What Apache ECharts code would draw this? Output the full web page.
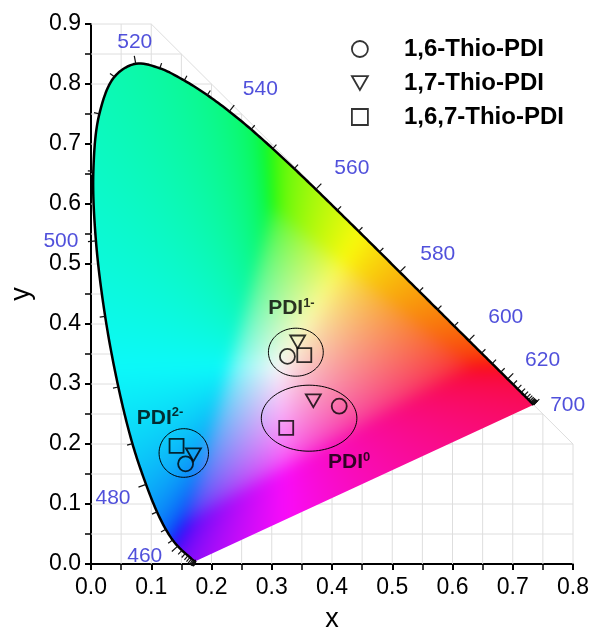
<!DOCTYPE html>
<html><head><meta charset="utf-8">
<script src="https://cdn.jsdelivr.net/npm/echarts@6/dist/echarts.min.js"></script>
<style>html,body{margin:0;padding:0;background:#fff}#c{width:592px;height:638px}</style>
</head><body><div id="c"></div>
<script>
// CIE 1931 2-degree spectral locus, 5 nm steps
const wavelengths = [380,385,390,395,400,405,410,415,420,425,430,435,440,445,450,455,460,465,470,475,480,485,490,495,500,505,510,515,520,525,530,535,540,545,550,555,560,565,570,575,580,585,590,595,600,605,610,615,620,625,630,635,640,645,650,655,660,665,670,675,680,685,690,695,700];
const locusX = [0.1741,0.1740,0.1738,0.1736,0.1733,0.1730,0.1726,0.1721,0.1714,0.1703,0.1689,0.1669,0.1644,0.1611,0.1566,0.1510,0.1440,0.1355,0.1241,0.1096,0.0913,0.0687,0.0454,0.0235,0.0082,0.0039,0.0139,0.0389,0.0743,0.1142,0.1547,0.1929,0.2296,0.2658,0.3016,0.3373,0.3731,0.4087,0.4441,0.4788,0.5125,0.5448,0.5752,0.6029,0.6270,0.6482,0.6658,0.6801,0.6915,0.7006,0.7079,0.7140,0.7190,0.7230,0.7260,0.7283,0.7300,0.7311,0.7320,0.7327,0.7334,0.7340,0.7344,0.7346,0.7347];
const locusY = [0.0050,0.0050,0.0049,0.0049,0.0048,0.0048,0.0048,0.0048,0.0051,0.0058,0.0069,0.0086,0.0109,0.0138,0.0177,0.0227,0.0297,0.0399,0.0578,0.0868,0.1327,0.2007,0.2950,0.4127,0.5384,0.6548,0.7502,0.8120,0.8338,0.8262,0.8059,0.7816,0.7543,0.7243,0.6923,0.6589,0.6245,0.5896,0.5547,0.5202,0.4866,0.4544,0.4242,0.3965,0.3725,0.3514,0.3340,0.3197,0.3083,0.2993,0.2920,0.2859,0.2809,0.2770,0.2740,0.2717,0.2700,0.2689,0.2680,0.2673,0.2666,0.2660,0.2656,0.2654,0.2653];
const labeledWavelengths = [460,480,500,520,540,560,580,600,620,700];

// Axis ranges / ticks
const xMin = 0, xMax = 0.8, yMin = 0, yMax = 0.9, majorStep = 0.1, gridStep = 0.05;

// Measured chromaticity points (groups: PDI0, PDI1-, PDI2-)
const seriesNames = ['1,6-Thio-PDI', '1,7-Thio-PDI', '1,6,7-Thio-PDI'];
const thio16 = [[0.412, 0.263], [0.326, 0.346], [0.157, 0.167]];
const thio17 = [[0.369, 0.272], [0.343, 0.370], [0.170, 0.182]];
const thio167 = [[0.324, 0.227], [0.354, 0.348], [0.142, 0.197]];

// Group ellipses (centre x, centre y, radius x, radius y)
const ellipseCX = [0.362, 0.340, 0.154];
const ellipseCY = [0.243, 0.353, 0.185];
const ellipseRX = [0.0793, 0.0455, 0.041];
const ellipseRY = [0.055, 0.040, 0.0405];

// Group labels
const groupMain = ['PDI', 'PDI', 'PDI'];
const groupSup = ['0', '1-', '2-'];
const groupLabelX = [0.3934, 0.294, 0.076];
const groupLabelY = [0.169, 0.4255, 0.2434];

// ---- styles ----
const FONT = 'Arial, "Liberation Sans", Helvetica, sans-serif';
const wlLabelOffsets = {460:[-33,10],480:[-33,14],500:[-35,0],520:[-1,-22],540:[31,-22],560:[36,-21],580:[38,-18],600:[37,-23],620:[35,-19],700:[34,0]};

function xyToRGB(x, y) {
  if (y < 1e-3) y = 1e-3;
  const X = x / y, Y = 1, Z = (1 - x - y) / y;
  let r = 3.2406 * X - 1.5372 * Y - 0.4986 * Z;
  let g = -0.9689 * X + 1.8758 * Y + 0.0415 * Z;
  let b = 0.0557 * X - 0.2040 * Y + 1.0570 * Z;
  const m = Math.min(r, g, b);
  if (m < 0) { r -= m; g -= m; b -= m; }
  const M = Math.max(r, g, b) || 1;
  r /= M; g /= M; b /= M;
  const gm = v => v <= 0.0031308 ? 12.92 * v : 1.055 * Math.pow(v, 1 / 2.4) - 0.055;
  const f = v => 12 + 0.93 * gm(v) * 255;
  return [f(r), f(g), f(b)];
}

// centripetal Catmull-Rom through the locus points, in pixel space (rendering only)
function locusCurve(api) {
  const P = locusX.map((v, i) => api.coord([v, locusY[i]]));
  const out = [P[0]];
  const dist = (a, b) => Math.hypot(a[0] - b[0], a[1] - b[1]);
  for (let i = 0; i < P.length - 1; i++) {
    const p1 = P[i], p2 = P[i + 1];
    const p0 = i > 0 ? P[i - 1] : p1, p3 = i < P.length - 2 ? P[i + 2] : p2;
    const seg = dist(p1, p2);
    if (seg < 1) { out.push(p2); continue; }
    const t0 = 0, t1 = t0 + Math.sqrt(dist(p0, p1)) + 1e-4, t2 = t1 + Math.sqrt(seg) + 1e-4, t3 = t2 + Math.sqrt(dist(p2, p3)) + 1e-4;
    const steps = Math.max(2, Math.ceil(seg / 3));
    for (let s = 1; s <= steps; s++) {
      const u = t1 + (t2 - t1) * s / steps;
      const lerp = (a, b, ta, tb) => [((tb - u) * a[0] + (u - ta) * b[0]) / (tb - ta), ((tb - u) * a[1] + (u - ta) * b[1]) / (tb - ta)];
      const A1 = lerp(p0, p1, t0, t1), A2 = lerp(p1, p2, t1, t2), A3 = lerp(p2, p3, t2, t3);
      const B1 = lerp(A1, A2, t0, t2), B2 = lerp(A2, A3, t1, t3);
      out.push(lerp(B1, B2, t1, t2));
    }
  }
  return out;
}

let fillCache = null;
function renderFill(params, api) {
  const p0 = api.coord([xMin, yMin]), p1 = api.coord([xMax, yMax]);
  const W = Math.round(p1[0] - p0[0]), H = Math.round(p0[1] - p1[1]);
  if (!fillCache || fillCache.width !== W || fillCache.height !== H) {
    const M = 24, WW = W + 2 * M, HH = H + 2 * M;
    const cv1 = document.createElement('canvas');
    cv1.width = WW; cv1.height = HH;
    const c1 = cv1.getContext('2d');
    const img = c1.createImageData(WW, HH);
    for (let j = 0; j < HH; j++) {
      const y = yMax - (j - M + 0.5) / H * (yMax - yMin);
      for (let i = 0; i < WW; i++) {
        const x = xMin + (i - M + 0.5) / W * (xMax - xMin);
        const k = (j * WW + i) * 4;
        const c = xyToRGB(Math.max(x, 0), y);
        img.data[k] = c[0]; img.data[k + 1] = c[1]; img.data[k + 2] = c[2]; img.data[k + 3] = 255;
      }
    }
    c1.putImageData(img, 0, 0);
    const cv = document.createElement('canvas');
    cv.width = W; cv.height = H;
    const ctx = cv.getContext('2d');
    ctx.filter = 'blur(7px)';
    ctx.drawImage(cv1, -M, -M);
    ctx.filter = 'none';
    ctx.globalCompositeOperation = 'destination-in';
    const curve = locusCurve(api);
    ctx.beginPath();
    curve.forEach((q, n) => { const px = q[0] - p0[0], py = q[1] - p1[1]; if (n === 0) ctx.moveTo(px, py); else ctx.lineTo(px, py); });
    ctx.closePath();
    ctx.fillStyle = '#000';
    ctx.fill();
    fillCache = cv;
  }
  return { type: 'image', style: { image: fillCache, x: p0[0], y: p1[1], width: W, height: H } };
}

function renderLocus(params, api) {
  return { type: 'polyline', shape: { points: locusCurve(api) }, style: { fill: 'none', stroke: '#000', lineWidth: 2.5, lineJoin: 'round' } };
}

// grid lines clipped to x + y <= 1
const gridData = [];
for (let k = 1; k * gridStep <= xMax + 1e-9; k++) {
  const x = +(k * gridStep).toFixed(3);
  gridData.push([x, yMin, x, Math.min(yMax, 1 - x)]);
}
for (let k = 1; k * gridStep <= yMax + 1e-9; k++) {
  const y = +(k * gridStep).toFixed(3);
  gridData.push([xMin, y, Math.min(xMax, 1 - y), y]);
}
gridData.push([1 - yMax, yMax, xMax, 1 - xMax]);

function renderGrid(params, api) {
  const a = api.coord([api.value(0), api.value(1)]);
  const b = api.coord([api.value(2), api.value(3)]);
  return { type: 'line', shape: { x1: a[0], y1: a[1], x2: b[0], y2: b[1] }, style: { stroke: '#dedede', lineWidth: 1 } };
}

function renderTick(params, api) {
  const i = params.dataIndex, n = locusX.length;
  const P = k => api.coord([locusX[k], locusY[k]]);
  const p = P(i);
  const d = (u, v) => Math.hypot(u[0] - v[0], u[1] - v[1]);
  let a = i, b = i;
  while (a > 0 && d(P(a), p) < 4) a--;
  while (b < n - 1 && d(P(b), p) < 4) b++;
  const pa = P(a), pb = P(b);
  let tx = pb[0] - pa[0], ty = pb[1] - pa[1];
  const L = Math.hypot(tx, ty) || 1; tx /= L; ty /= L;
  let nx = -ty, ny = tx;
  const w = api.coord([0.3127, 0.329]);
  if ((p[0] - w[0]) * nx + (p[1] - w[1]) * ny < 0) { nx = -nx; ny = -ny; }
  const len = labeledWavelengths.indexOf(wavelengths[i]) >= 0 ? 8 : 5.5;
  return { type: 'line', shape: { x1: p[0], y1: p[1], x2: p[0] + nx * len, y2: p[1] + ny * len }, style: { stroke: '#111', lineWidth: 1.2 } };
}

function renderEllipse(params, api) {
  const cx = api.value(0), cy = api.value(1), rx = api.value(2), ry = api.value(3);
  const pts = [];
  for (let t = 0; t < 96; t++) {
    const ang = t / 96 * Math.PI * 2;
    pts.push(api.coord([cx + rx * Math.cos(ang), cy + ry * Math.sin(ang)]));
  }
  return { type: 'polygon', shape: { points: pts }, style: { fill: 'none', stroke: '#000', lineWidth: 1 } };
}

const markerStyle = { color: 'rgba(0,0,0,0)', borderColor: '#000', borderWidth: 1.8 };
const triPath = 'path://M0,0L20,0L10,17.32Z';

const chart = echarts.init(document.getElementById('c'), null, { renderer: 'canvas' });
chart.setOption({
  animation: false,
  backgroundColor: '#fff',
  textStyle: { fontFamily: FONT },
  grid: { left: 89, right: 19, top: 24, bottom: 70, containLabel: false },
  xAxis: {
    type: 'value', min: xMin, max: xMax, interval: majorStep,
    axisLine: { lineStyle: { color: '#000', width: 2 } },
    axisTick: { length: 6, lineStyle: { color: '#000', width: 2 } },
    minorTick: { show: true, splitNumber: 2, length: 6, lineStyle: { color: '#000', width: 1.5 } },
    splitLine: { show: false },
    axisLabel: { fontSize: 23, color: '#000', margin: 12, fontFamily: FONT, formatter: v => v.toFixed(1) },
    name: 'x', nameLocation: 'middle', nameGap: 42, nameTextStyle: { fontSize: 27, color: '#000', fontFamily: FONT }
  },
  yAxis: {
    type: 'value', min: yMin, max: yMax, interval: majorStep,
    axisLine: { show: true, lineStyle: { color: '#000', width: 2 } },
    axisTick: { show: true, length: 6, lineStyle: { color: '#000', width: 2 } },
    minorTick: { show: true, splitNumber: 2, length: 6, lineStyle: { color: '#000', width: 1.5 } },
    splitLine: { show: false },
    axisLabel: { fontSize: 23, color: '#000', margin: 10, fontFamily: FONT, formatter: v => v.toFixed(1) },
    name: 'y', nameLocation: 'middle', nameGap: 56, nameTextStyle: { fontSize: 27, color: '#000', fontFamily: FONT }
  },
  legend: {
    data: seriesNames, orient: 'vertical', left: 346, top: 32, itemGap: 10,
    itemWidth: 16, itemHeight: 16, symbolKeepAspect: true,
    itemStyle: { color: 'rgba(0,0,0,0)', borderColor: '#000', borderWidth: 1.8 },
    textStyle: { fontSize: 24, fontWeight: 'bold', color: '#000', fontFamily: FONT, padding: [0, 0, 0, 31] }
  },
  series: [
    { type: 'custom', name: 'grid', coordinateSystem: 'cartesian2d', renderItem: renderGrid, data: gridData, z: 1, silent: true },
    { type: 'custom', name: 'fill', coordinateSystem: 'cartesian2d', renderItem: renderFill, data: [[0.4, 0.4]], z: 2, silent: true, clip: false },
    { type: 'custom', name: 'ellipses', coordinateSystem: 'cartesian2d', renderItem: renderEllipse,
      data: ellipseCX.map((v, i) => [v, ellipseCY[i], ellipseRX[i], ellipseRY[i]]), z: 3, silent: true },
    { type: 'custom', name: 'locus', coordinateSystem: 'cartesian2d', renderItem: renderLocus,
      data: [[locusX[0], locusY[0]]], z: 4, silent: true, clip: false },
    { type: 'custom', name: 'ticks', coordinateSystem: 'cartesian2d', renderItem: renderTick,
      data: locusX.map((v, i) => [v, locusY[i]]), z: 4, silent: true, clip: false },
    { type: 'scatter', name: 'wl', symbolSize: 0, z: 6, silent: true,
      data: labeledWavelengths.map(w => { const k = wavelengths.indexOf(w); return { value: [locusX[k], locusY[k]], wl: w, label: { offset: wlLabelOffsets[w] } }; }),
      label: { show: true, position: 'inside', fontSize: 21, color: '#2424d2', fontFamily: FONT,
        formatter: p => String(p.data.wl) } },
    { type: 'scatter', name: 'groupLabels', symbolSize: 0, z: 6, silent: true,
      data: groupLabelX.map((v, i) => ({ value: [v, groupLabelY[i]], main: groupMain[i], sup: groupSup[i] })),
      label: { show: true, position: 'right', distance: 0,
        formatter: p => '{m|' + p.data.main + '}{s|' + p.data.sup + '}',
        rich: {
          m: { fontSize: 21, fontWeight: 'bold', color: '#000', fontFamily: FONT, lineHeight: 24 },
          s: { fontSize: 13, fontWeight: 'bold', color: '#000', fontFamily: FONT, lineHeight: 12, verticalAlign: 'top' }
        } } },
    { type: 'scatter', name: seriesNames[0], data: thio16, symbol: 'circle', symbolSize: 15, itemStyle: markerStyle, z: 7 },
    { type: 'scatter', name: seriesNames[1], data: thio17, symbol: triPath, symbolSize: 15, symbolKeepAspect: true, itemStyle: markerStyle, z: 7 },
    { type: 'scatter', name: seriesNames[2], data: thio167, symbol: 'rect', symbolSize: 14, itemStyle: markerStyle, z: 7 }
  ]
});
</script>
</body></html>
